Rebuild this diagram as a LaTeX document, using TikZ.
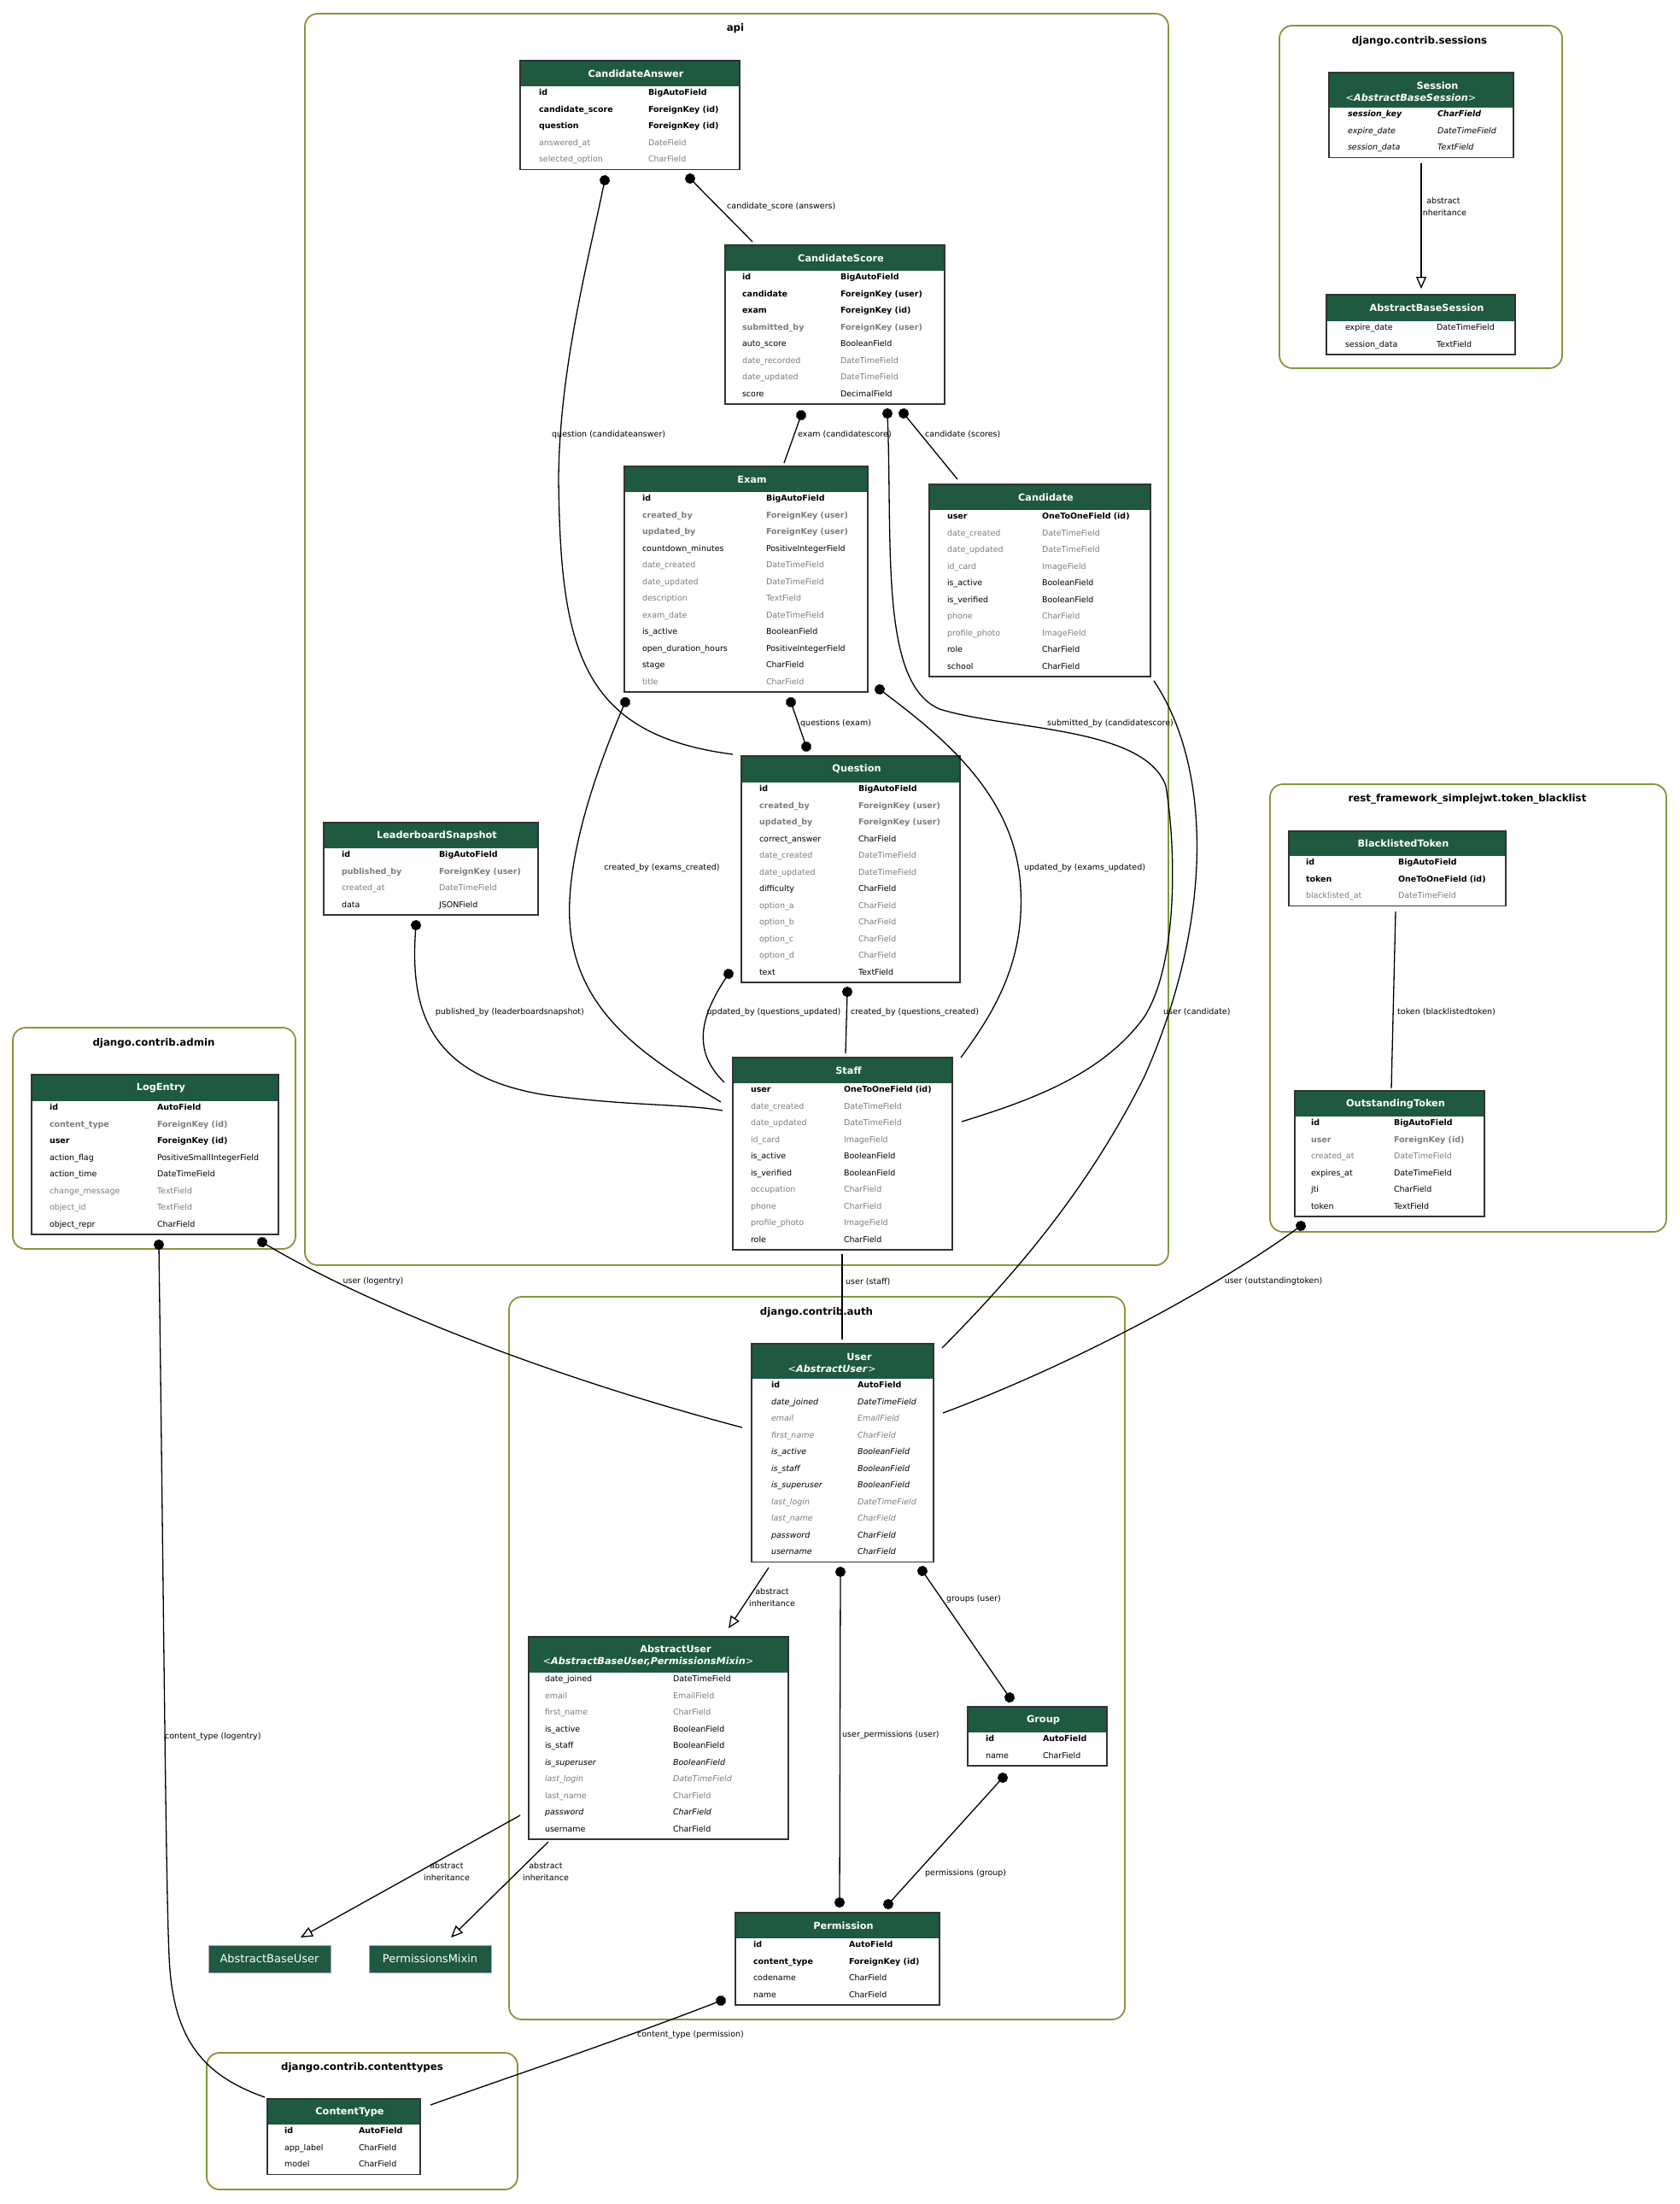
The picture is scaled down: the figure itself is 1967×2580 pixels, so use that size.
\documentclass[tikz,border=0pt]{standalone}
\usepackage{fontspec}
\setmainfont{DejaVu Sans}
\usetikzlibrary{arrows.meta,calc}
\definecolor{hdr}{RGB}{30,89,64}
\definecolor{clu}{RGB}{125,155,60}
\definecolor{fgray}{RGB}{125,125,125}
\tikzset{
 cell/.style={inner sep=0pt, outer sep=0pt, anchor=west, font=\fontsize{9.5}{11}\selectfont, text height=7.5pt, text depth=2.5pt},
 rowb/.style={font=\fontsize{9.5}{11}\selectfont\bfseries},
 rown/.style={},
 rowg/.style={text=fgray},
 rowgb/.style={text=fgray,font=\fontsize{9.5}{11}\selectfont\bfseries},
 rowi/.style={font=\fontsize{9.5}{11}\selectfont\itshape},
 rowib/.style={font=\fontsize{9.5}{11}\selectfont\bfseries\itshape},
 rowig/.style={text=fgray,font=\fontsize{9.5}{11}\selectfont\itshape},
 mbox/.style={draw=black!80, line width=1.4pt, inner sep=0pt, outer sep=0pt, anchor=north west},
 htext/.style={text=white, font=\fontsize{11.3}{14}\selectfont\bfseries, inner sep=0pt},
 htexttwo/.style={text=white, font=\fontsize{11.3}{14}\selectfont, inner sep=0pt},
 plainbox/.style={fill=hdr, draw=black!35, line width=0.8pt, text=white, font=\fontsize{13}{15}\selectfont, inner sep=0pt, outer sep=0pt, anchor=north west, minimum width=143pt, minimum height=32pt},
 cluster/.style={draw=clu, line width=1.8pt, rounded corners=15pt},
 ctitle/.style={font=\fontsize{11.8}{13}\selectfont\bfseries, inner sep=0pt},
 elabel/.style={font=\fontsize{9.5}{14}\selectfont, inner sep=0pt, align=center},
 conn/.style={line width=1.3pt},
 dotA/.style={conn, {Circle[length=12pt]}-, shorten <=-6pt},
 dotAB/.style={conn, {Circle[length=12pt]}-{Circle[length=12pt]}, shorten <=-6pt, shorten >=-6pt},
 inh/.style={conn, -{Triangle[open, length=14pt, width=12pt]}},
}
% #1 name, #2 x, #3 y, #4 width, #5 header height, #6 col1, #7 col2, #8 header text, #9 rows
\newcommand\model[9]{%
  \fill[hdr] (#2,#3) rectangle ++(#4,#5);
  \foreach \rs/\rn/\rt [count=\ri] in {#9}{%
    \node[cell,\rs] (#1-n\ri) at ({#2+#6},{#3+#5+8+19.5*(\ri-1)}) {\rn};
    \node[cell,\rs] (#1-t\ri) at ({#2+#7},{#3+#5+8+19.5*(\ri-1)}) {\rt};
    \xdef\nrows{\ri}}
  \pgfmathsetmacro\mh{#5+19.5*\nrows}
  \node[mbox, minimum width=#4pt, minimum height=\mh pt] (#1) at (#2,#3) {};
  \if\relax\detokenize{#8}\relax\else
   \node[htext] (#1-h) at ({#2+#4/2+7},{#3+#5/2}) {#8};
  \fi
}
\begin{document}
\begin{tikzpicture}[x=1pt,y=-1pt]
\useasboundingbox (0,0) rectangle (1967,2580);
\fill[white] (0,0) rectangle (1967,2580);

% clusters
\draw[cluster] (357,16) rectangle (1368,1481);
\draw[cluster] (1498,30) rectangle (1829,431);
\draw[cluster] (1487,918) rectangle (1951,1442);
\draw[cluster] (15,1203) rectangle (346,1462);
\draw[cluster] (596,1518) rectangle (1317,2364);
\draw[cluster] (242,2403) rectangle (606,2563);
\node[ctitle] (t-api) at (861,33) {api};
\node[ctitle] (t-sess) at (1662,48) {django.contrib.sessions};
\node[ctitle] (t-jwt) at (1718,935) {rest\_framework\_simplejwt.token\_blacklist};
\node[ctitle] (t-admin) at (180,1221) {django.contrib.admin};
\node[ctitle] (t-auth) at (956,1536) {django.contrib.auth};
\node[ctitle] (t-ct) at (424,2420) {django.contrib.contenttypes};

% models
\model{CandidateAnswer}{609}{71}{257}{30}{22}{150}{CandidateAnswer}{rowb/id/BigAutoField, rowb/candidate\_score/ForeignKey (id), rowb/question/ForeignKey (id), rowg/answered\_at/DateField, rowg/selected\_option/CharField}
\model{CandidateScore}{849}{287}{257}{30}{20}{135}{CandidateScore}{rowb/id/BigAutoField, rowb/candidate/ForeignKey (user), rowb/exam/ForeignKey (id), rowgb/submitted\_by/ForeignKey (user), rown/auto\_score/BooleanField, rowg/date\_recorded/DateTimeField, rowg/date\_updated/DateTimeField, rown/score/DecimalField}
\model{Exam}{731}{546}{285}{30}{21}{166}{Exam}{rowb/id/BigAutoField, rowgb/created\_by/ForeignKey (user), rowgb/updated\_by/ForeignKey (user), rown/countdown\_minutes/PositiveIntegerField, rowg/date\_created/DateTimeField, rowg/date\_updated/DateTimeField, rowg/description/TextField, rowg/exam\_date/DateTimeField, rown/is\_active/BooleanField, rown/open\_duration\_hours/PositiveIntegerField, rown/stage/CharField, rowg/title/CharField}
\model{Candidate}{1088}{567}{259}{30}{21}{132}{Candidate}{rowb/user/OneToOneField (id), rowg/date\_created/DateTimeField, rowg/date\_updated/DateTimeField, rowg/id\_card/ImageField, rown/is\_active/BooleanField, rown/is\_verified/BooleanField, rowg/phone/CharField, rowg/profile\_photo/ImageField, rown/role/CharField, rown/school/CharField}
\model{Question}{868}{885}{256}{31}{21}{137}{Question}{rowb/id/BigAutoField, rowgb/created\_by/ForeignKey (user), rowgb/updated\_by/ForeignKey (user), rown/correct\_answer/CharField, rowg/date\_created/DateTimeField, rowg/date\_updated/DateTimeField, rown/difficulty/CharField, rowg/option\_a/CharField, rowg/option\_b/CharField, rowg/option\_c/CharField, rowg/option\_d/CharField, rown/text/TextField}
\model{LeaderboardSnapshot}{379}{963}{251}{30}{21}{135}{LeaderboardSnapshot}{rowb/id/BigAutoField, rowgb/published\_by/ForeignKey (user), rowg/created\_at/DateTimeField, rown/data/JSONField}
\model{Staff}{858}{1238}{257}{30}{21}{130}{Staff}{rowb/user/OneToOneField (id), rowg/date\_created/DateTimeField, rowg/date\_updated/DateTimeField, rowg/id\_card/ImageField, rown/is\_active/BooleanField, rown/is\_verified/BooleanField, rowg/occupation/CharField, rowg/phone/CharField, rowg/profile\_photo/ImageField, rown/role/CharField}
\model{Session}{1556}{85}{216}{41}{22}{127}{}{rowib/session\_key/CharField, rowi/expire\_date/DateTimeField, rowi/session\_data/TextField}
\node[htext] (Session-h1) at (1683,100) {Session};
\node[htexttwo] (Session-h2) at (1652,114) {<\textbf{\textit{AbstractBaseSession}}>};
\model{AbstractBaseSession}{1553}{345}{221}{31}{22}{129}{AbstractBaseSession}{rown/expire\_date/DateTimeField, rown/session\_data/TextField}
\model{BlacklistedToken}{1509}{973}{254}{29}{20}{128}{BlacklistedToken}{rowb/id/BigAutoField, rowb/token/OneToOneField (id), rowg/blacklisted\_at/DateTimeField}
\model{OutstandingToken}{1516}{1277}{222}{30}{19}{116}{OutstandingToken}{rowb/id/BigAutoField, rowgb/user/ForeignKey (id), rowg/created\_at/DateTimeField, rown/expires\_at/DateTimeField, rown/jti/CharField, rown/token/TextField}
\model{LogEntry}{37}{1258}{289}{31}{21}{147}{LogEntry}{rowb/id/AutoField, rowgb/content\_type/ForeignKey (id), rowb/user/ForeignKey (id), rown/action\_flag/PositiveSmallIntegerField, rown/action\_time/DateTimeField, rowg/change\_message/TextField, rowg/object\_id/TextField, rown/object\_repr/CharField}
\model{User}{880}{1573}{213}{41}{23}{124}{}{rowb/id/AutoField, rowi/date\_joined/DateTimeField, rowig/email/EmailField, rowig/first\_name/CharField, rowi/is\_active/BooleanField, rowi/is\_staff/BooleanField, rowi/is\_superuser/BooleanField, rowig/last\_login/DateTimeField, rowig/last\_name/CharField, rowi/password/CharField, rowi/username/CharField}
\node[htext] (User-h1) at (1006,1588) {User};
\node[htexttwo] (User-h2) at (974,1602) {<\textbf{\textit{AbstractUser}}>};
\model{AbstractUser}{619}{1916}{304}{42}{19}{169}{}{rown/date\_joined/DateTimeField, rowg/email/EmailField, rowg/first\_name/CharField, rown/is\_active/BooleanField, rown/is\_staff/BooleanField, rowi/is\_superuser/BooleanField, rowig/last\_login/DateTimeField, rowg/last\_name/CharField, rowi/password/CharField, rown/username/CharField}
\node[htext] (AbstractUser-h1) at (791,1930) {AbstractUser};
\node[htexttwo] (AbstractUser-h2) at (759,1945) {<\textbf{\textit{AbstractBaseUser,PermissionsMixin}}>};
\model{Group}{1133}{1998}{163}{30}{21}{88}{Group}{rowb/id/AutoField, rown/name/CharField}
\model{Permission}{861}{2239}{239}{30}{21}{133}{Permission}{rowb/id/AutoField, rowb/content\_type/ForeignKey (id), rown/codename/CharField, rown/name/CharField}
\model{ContentType}{313}{2457}{179}{30}{20}{107}{ContentType}{rowb/id/AutoField, rown/app\_label/CharField, rown/model/CharField}
\node[plainbox] (AbstractBaseUser) at (244,2277) {AbstractBaseUser};
\node[plainbox] (PermissionsMixin) at (432,2277) {PermissionsMixin};

% connectors
\draw[dotA] ($(CandidateAnswer.north west)+(199,138)$) -- ($(CandidateScore.north west)+(32,-4)$);
\draw[dotA] ($(CandidateAnswer.north west)+(99,140)$) .. controls (690,300) and (655,430) .. (654,560) .. controls (656,760) and (680,860) .. ($(Question.north west)+(-10,-2)$);
\draw[dotA] ($(CandidateScore.north west)+(89,199)$) -- ($(Exam.north west)+(187,-4)$);
\draw[dotA] ($(CandidateScore.north west)+(209,197)$) -- ($(Candidate.north west)+(33,-6)$);
\draw[dotA] ($(CandidateScore.north west)+(190,197)$) .. controls (1045,640) and (1030,800) .. (1100,830) .. controls (1180,855) and (1340,850) .. (1365,920) .. controls (1378,1000) and (1378,1130) .. (1340,1190) .. controls (1290,1260) and (1200,1290) .. ($(Staff.north west)+(268,75)$);
\draw[dotAB] ($(Exam.north west)+(195,276)$) -- ($(Question.north west)+(76,-11)$);
\draw[dotA] ($(Exam.north west)+(1,276)$) .. controls (690,920) and (660,1020) .. (668,1090) .. controls (680,1190) and (760,1240) .. ($(Staff.north west)+(-14,52)$);
\draw[dotA] ($(Exam.north west)+(299,261)$) .. controls (1100,860) and (1190,930) .. (1195,1040) .. controls (1200,1130) and (1160,1190) .. ($(Staff.north east)+(10,0)$);
\draw[dotA] ($(Question.north west)+(-15,255)$) .. controls (820,1190) and (810,1230) .. ($(Staff.north west)+(-10,29)$);
\draw[dotA] ($(Question.north west)+(124,276)$) -- ($(Staff.north west)+(132,-5)$);
\draw[dotA] ($(LeaderboardSnapshot.north west)+(108,120)$) .. controls (480,1180) and (500,1260) .. (640,1282) .. controls (740,1295) and (800,1292) .. ($(Staff.north west)+(-12,62)$);
\draw[conn] ($(Staff.north west)+(128,230)$) -- ($(User.north west)+(106,-5)$);
\draw[conn] ($(Candidate.north west)+(263,230)$) .. controls (1420,900) and (1420,1080) .. (1340,1260) .. controls (1270,1400) and (1180,1500) .. ($(User.north west)+(223,5)$);
\draw[dotA] ($(LogEntry.north west)+(270,196)$) .. controls (400,1510) and (600,1600) .. ($(User.north west)+(-11,98)$);
\draw[dotA] ($(OutstandingToken.north west)+(7,158)$) .. controls (1420,1510) and (1250,1600) .. ($(User.north west)+(224,81)$);
\draw[dotA] ($(LogEntry.north west)+(149,199)$) .. controls (192,1900) and (194,2200) .. (198,2290) .. controls (202,2390) and (240,2430) .. ($(ContentType.north west)+(-3,-2)$);
\draw[inh] ($(User.north west)+(20,262)$) -- ($(AbstractUser.north west)+(234,-10)$);
\draw[dotAB] ($(User.north west)+(104,267)$) -- ($(Permission.north west)+(122,-12)$);
\draw[dotAB] ($(User.north west)+(200,266)$) -- ($(Group.north west)+(49,-11)$);
\draw[dotAB] ($(Group.north west)+(41,83)$) -- ($(Permission.north west)+(179,-10)$);
\draw[inh] ($(AbstractUser.north west)+(-10,209)$) -- ($(AbstractBaseUser.north west)+(108,-9)$);
\draw[inh] ($(AbstractUser.north west)+(23,240)$) -- ($(PermissionsMixin.north west)+(96,-9)$);
\draw[dotA] ($(Permission.north west)+(-17,103)$) .. controls (720,2390) and (600,2430) .. ($(ContentType.north west)+(191,7)$);
\draw[conn] ($(BlacklistedToken.north west)+(125,94)$) -- ($(OutstandingToken.north west)+(113,-3)$);
\draw[inh] ($(Session.north west)+(108,106)$) -- ($(AbstractBaseSession.north west)+(111,-7)$);

% connector labels
\node[elabel, anchor=west] (l1) at (851,242) {candidate\_score (answers)};
\node[elabel, anchor=west] (l2) at (646,509) {question (candidateanswer)};
\node[elabel, anchor=west] (l3) at (934,509) {exam (candidatescore)};
\node[elabel, anchor=west] (l4) at (1083,509) {candidate (scores)};
\node[elabel] (l5) at (1300,847) {submitted\_by (candidatescore)};
\node[elabel, anchor=west] (l6) at (937,847) {questions (exam)};
\node[elabel] (l7) at (775,1016) {created\_by (exams\_created)};
\node[elabel] (l8) at (1270,1016) {updated\_by (exams\_updated)};
\node[elabel] (l9) at (906,1185) {updated\_by (questions\_updated)};
\node[elabel] (l10) at (1071,1185) {created\_by (questions\_created)};
\node[elabel, anchor=east] (l11) at (684,1185) {published\_by (leaderboardsnapshot)};
\node[elabel, anchor=west] (l12) at (990,1500) {user (staff)};
\node[elabel, anchor=west] (l13) at (1362,1185) {user (candidate)};
\node[elabel] (l14) at (437,1500) {user (logentry)};
\node[elabel] (l15) at (1491,1500) {user (outstandingtoken)};
\node[elabel, anchor=west] (l16) at (193,2033) {content\_type (logentry)};
\node[elabel] (l17) at (904,1870) {abstract\\inheritance};
\node[elabel, anchor=west] (l18) at (986,2031) {user\_permissions (user)};
\node[elabel, anchor=west] (l19) at (1108,1872) {groups (user)};
\node[elabel, anchor=west] (l20) at (1083,2193) {permissions (group)};
\node[elabel] (l21) at (523,2191) {abstract\\inheritance};
\node[elabel] (l22) at (639,2191) {abstract\\inheritance};
\node[elabel, anchor=west] (l23) at (746,2382) {content\_type (permission)};
\node[elabel, anchor=west] (l24) at (1636,1185) {token (blacklistedtoken)};
\node[elabel] (l25) at (1690,242) {abstract\\inheritance};
\end{tikzpicture}
\end{document}
